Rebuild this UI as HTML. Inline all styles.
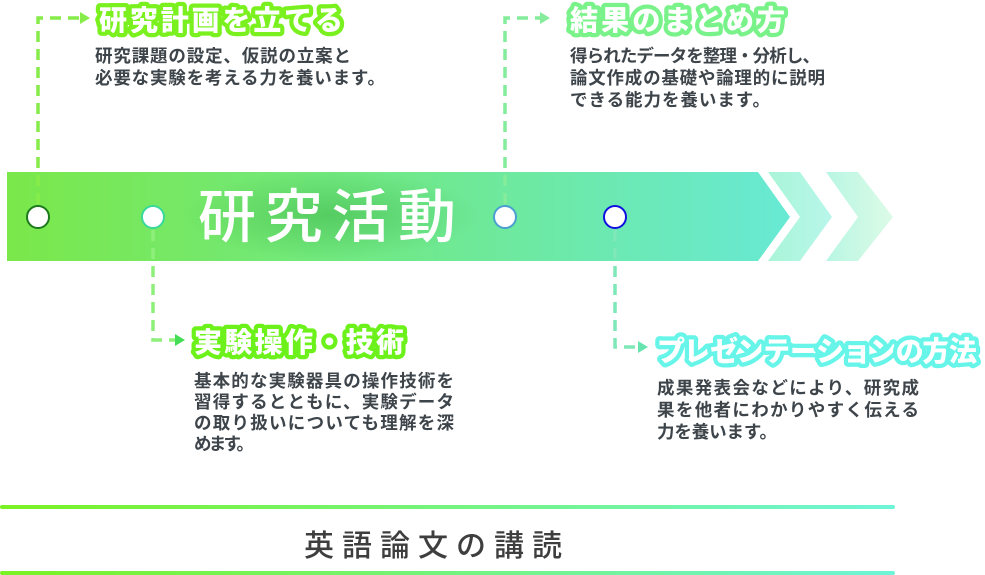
<!DOCTYPE html>
<html><head><meta charset="utf-8"><style>
html,body{margin:0;padding:0;background:#fff;width:985px;height:575px;overflow:hidden}
svg{display:block}
.t{font-family:"Liberation Sans","Noto Sans CJK JP",sans-serif;font-weight:900;font-size:28px;fill:#fff;stroke-width:8.5;stroke-linejoin:round;paint-order:stroke}
.b{font-family:"Liberation Sans","Noto Sans CJK JP",sans-serif;font-size:17.5px;fill:#3d444a;font-weight:600}
</style></head><body>
<svg width="985" height="575" viewBox="0 0 985 575" xmlns="http://www.w3.org/2000/svg">
<defs>
<linearGradient id="bar" x1="0" x2="1"><stop offset="0" stop-color="#7ae84a"/><stop offset="0.5" stop-color="#70e98a"/><stop offset="1" stop-color="#68e9d4"/></linearGradient>
<linearGradient id="ch1" x1="0" x2="1"><stop offset="0" stop-color="#a9f5d8"/><stop offset="1" stop-color="#b8f6ea"/></linearGradient>
<linearGradient id="ch2" x1="0" x2="1"><stop offset="0" stop-color="#b8f6e4"/><stop offset="1" stop-color="#dcfbe6"/></linearGradient>
<linearGradient id="ln" x1="0" x2="1"><stop offset="0" stop-color="#7af222"/><stop offset="1" stop-color="#6ef5d8"/></linearGradient>
<radialGradient id="sh" cx="0.5" cy="0.5" r="0.5"><stop offset="0" stop-color="#3fb54a" stop-opacity="0.55"/><stop offset="1" stop-color="#3fb54a" stop-opacity="0"/></radialGradient>
</defs>
<polygon points="7,172 758,172 790,217 758,261 7,261" fill="url(#bar)"/>
<polygon points="768,172 800,172 832,217 800,261 768,261 800,217" fill="url(#ch1)"/>
<polygon points="826,172 858,172 893,217 858,261 826,261 858,217" fill="url(#ch2)"/>
<ellipse cx="330" cy="215" rx="150" ry="45" fill="url(#sh)"/>
<text x="198" y="237" font-family="'Liberation Sans','Noto Sans CJK JP',sans-serif" font-size="58" font-weight="500" fill="#fff" textLength="258">研究活動</text>

<g fill="none" stroke-width="3.5" stroke-dasharray="11,7">
<path d="M38 204 V18 H80" stroke="#86ec4a"/>
<path d="M153 230 V340 H175" stroke="#8ef07a"/>
<path d="M505 204 V18 H540" stroke="#84ec9a"/>
<path d="M615 230 V347 H638" stroke="#7ee8b8"/>
</g>
<g stroke="none">
<polygon points="80,12 90,18 80,24" fill="#86ec4a"/>
<polygon points="175,334 185,340 175,346" fill="#44dd55"/>
<polygon points="540,12 550,18 540,24" fill="#84ec9a"/>
<polygon points="638,341 648,347 638,353" fill="#66e4b0"/>
</g>
<circle cx="38" cy="217" r="11" fill="#fff" stroke="#1c7a1c" stroke-width="2"/>
<circle cx="153" cy="217" r="11" fill="#fff" stroke="#38d89a" stroke-width="2"/>
<circle cx="505" cy="217" r="11" fill="#fff" stroke="#4a9fd0" stroke-width="2"/>
<circle cx="615" cy="217" r="11" fill="#fff" stroke="#1010e0" stroke-width="2"/>

<text class="t" x="99" y="30" stroke="#7af11e" textLength="244">研究計画を立てる</text>
<text class="t" x="194" y="352" stroke="#6cf21a" textLength="210">実験操作・技術</text>
<text class="t" x="570" y="30" stroke="#7af28a" textLength="215">結果のまとめ方</text>
<text class="t" x="657" y="361" stroke="#66f5e8" textLength="320">プレゼンテーションの方法</text>

<text class="b" x="95" y="62" textLength="256">研究課題の設定、仮説の立案と</text>
<text class="b" x="95" y="84" textLength="290">必要な実験を考える力を養います。</text>

<text class="b" x="194" y="387" textLength="260">基本的な実験器具の操作技術を</text>
<text class="b" x="194" y="408" textLength="260">習得するとともに、実験データ</text>
<text class="b" x="194" y="429" textLength="260">の取り扱いについても理解を深</text>
<text class="b" x="194" y="450" textLength="60">めます。</text>

<text class="b" x="570" y="62" textLength="250">得られたデータを整理・分析し、</text>
<text class="b" x="570" y="84" textLength="255">論文作成の基礎や論理的に説明</text>
<text class="b" x="570" y="106" textLength="200">できる能力を養います。</text>

<text class="b" x="657" y="394" textLength="262">成果発表会などにより、研究成</text>
<text class="b" x="657" y="416" textLength="262">果を他者にわかりやすく伝える</text>
<text class="b" x="657" y="438" textLength="120">力を養います。</text>

<rect x="0" y="505" width="895" height="4" rx="2" fill="url(#ln)"/>
<rect x="0" y="571" width="895" height="4" rx="2" fill="url(#ln)"/>
<text x="304" y="556" font-family="'Liberation Sans','Noto Sans CJK JP',sans-serif" font-size="30" font-weight="500" fill="#3e3e3e" textLength="258">英語論文の講読</text>
</svg>
</body></html>
